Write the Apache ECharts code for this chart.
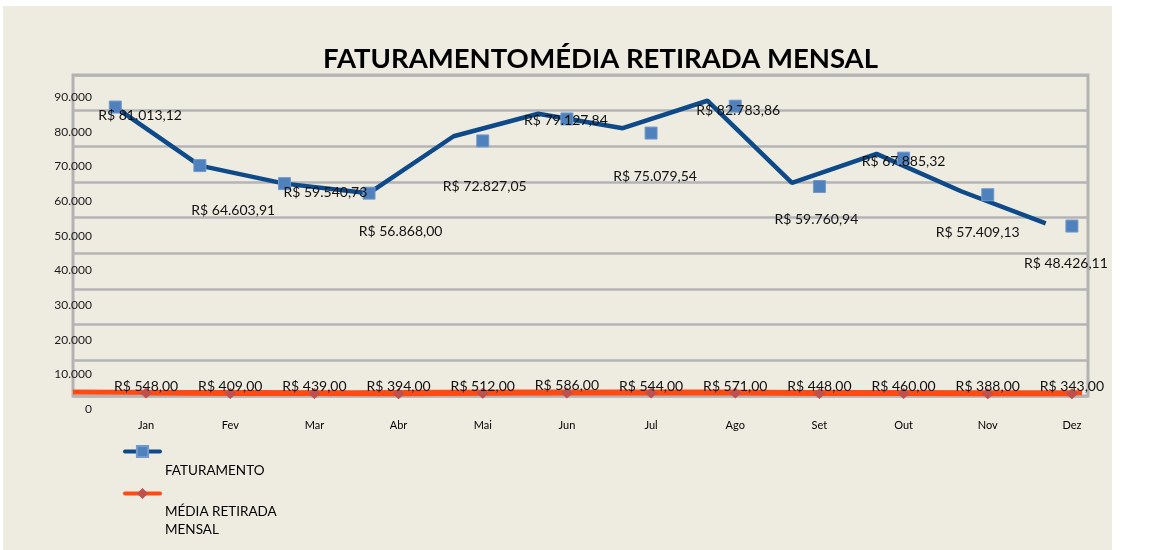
<!DOCTYPE html>
<html>
<head>
<meta charset="utf-8">
<script src="https://cdn.jsdelivr.net/npm/echarts@6/dist/echarts.min.js"></script>
<style>
  html, body { margin: 0; padding: 0; background: #ffffff; }
  #wrap { position: relative; width: 1152px; height: 550px; overflow: hidden; }
  #panel { position: absolute; left: 3px; top: 6px; width: 1109px; height: 544px; background: #EEECE1; }
  #chart { position: absolute; left: 0; top: 0; width: 1152px; height: 550px; }
</style>
</head>
<body>
<div id="wrap">
  <div id="panel"></div>
  <div id="chart"></div>
</div>
<script>
// Monthly data
const months = ['Jan', 'Fev', 'Mar', 'Abr', 'Mai', 'Jun', 'Jul', 'Ago', 'Set', 'Out', 'Nov', 'Dez'];
const faturamento = [81013.12, 64603.91, 59540.73, 56868.00, 72827.05, 79127.84, 75079.54, 82783.86, 59760.94, 67885.32, 57409.13, 48426.11];
const mediaRetirada = [548.00, 409.00, 439.00, 394.00, 512.00, 586.00, 544.00, 571.00, 448.00, 460.00, 388.00, 343.00];
const yMin = 0;
const yMax = 90000;
const yStep = 10000;

const FONT = 'Lato, "Liberation Sans", sans-serif';

// pt-BR number formatting: 81013.12 -> "81.013,12"
function groupThousands(intStr) {
  return intStr.replace(/\B(?=(\d{3})+(?!\d))/g, '.');
}
function brMoney(v) {
  const parts = Math.abs(v).toFixed(2).split('.');
  return 'R$ ' + groupThousands(parts[0]) + ',' + parts[1];
}
function brInt(v) {
  return groupThousands(String(Math.round(v)));
}

// label placement around each revenue point (dx, dy in px)
const revLabelShift = [[-6, 3], [3, 41], [11, 5], [2, 35], [2, 46], [-1, 2], [4, 43], [3, 4], [-3, 33], [0, 3], [-10, 38], [-6, 37]];

const chart = echarts.init(document.getElementById('chart'), null, { renderer: 'canvas' });

const hiddenCat = {
  type: 'category', data: months, boundaryGap: true,
  axisLine: { show: false }, axisTick: { show: false }, axisLabel: { show: false }, splitLine: { show: false }
};
const hiddenVal = {
  type: 'value', min: yMin, max: yMax, interval: yStep,
  axisLine: { show: false }, axisTick: { show: false }, axisLabel: { show: false }, splitLine: { show: false }
};

// legend text sits below-right of its icon
const legendText = {
  fontFamily: FONT, fontSize: 13.5, color: '#000000',
  rich: {
    gap1: { lineHeight: 38, fontSize: 1 },
    gap2: { lineHeight: 54, fontSize: 1 },
    t: { fontFamily: FONT, fontSize: 13.5, lineHeight: 18, color: '#000000' }
  }
};
const legendLine = { width: 4, cap: 'round' };

const option = {
  backgroundColor: 'transparent',
  animation: false,
  textStyle: { fontFamily: FONT },
  title: [
    { text: 'FATURAMENTO', left: 323, top: 45, padding: 0,
      textStyle: { fontFamily: FONT, fontSize: 27.5, fontWeight: 'bold', color: '#000000' } },
    { text: 'MÉDIA RETIRADA MENSAL', right: 274, top: 45, padding: 0,
      textStyle: { fontFamily: FONT, fontSize: 27.5, fontWeight: 'bold', color: '#000000' } }
  ],
  legend: [
    {
      data: ['FATURAMENTO'], orient: 'vertical', left: 123, top: 442, padding: 0,
      itemWidth: 35, itemHeight: 14, selectedMode: false,
      lineStyle: legendLine,
      formatter: name => '{gap1| }\n{t|' + name + '}',
      textStyle: legendText
    },
    {
      data: ['MÉDIA RETIRADA MENSAL'], orient: 'vertical', left: 123, top: 475, padding: 0,
      itemWidth: 35, itemHeight: 14, selectedMode: false,
      lineStyle: legendLine,
      formatter: () => '{gap2| }\n{t|MÉDIA RETIRADA}\n{t|MENSAL}',
      textStyle: legendText
    }
  ],
  grid: [
    // plot frame with gridlines and the revenue line
    { left: 73, top: 75, width: 1015, height: 321, show: true, borderColor: '#B2B2B2', borderWidth: 3, backgroundColor: 'transparent' },
    // category labels, point markers and value labels
    { left: 104, top: 81, width: 1010, height: 314 },
    // value-axis tick labels
    { left: 104, top: 97, width: 1010, height: 312 },
    // withdrawal line across the frame
    { left: 73, top: 80, width: 1009, height: 314 }
  ],
  xAxis: [
    Object.assign({}, hiddenCat, { gridIndex: 0 }),
    Object.assign({}, hiddenCat, {
      gridIndex: 1,
      axisLabel: { show: true, margin: 25, fontFamily: FONT, fontSize: 11, color: '#000000', interval: 0 }
    }),
    Object.assign({}, hiddenCat, { gridIndex: 2 }),
    Object.assign({}, hiddenCat, { gridIndex: 3, boundaryGap: false })
  ],
  yAxis: [
    Object.assign({}, hiddenVal, {
      gridIndex: 0,
      splitLine: { show: true, lineStyle: { color: '#B4B4B4', width: 2.5 } }
    }),
    Object.assign({}, hiddenVal, { gridIndex: 1 }),
    Object.assign({}, hiddenVal, {
      gridIndex: 2,
      axisLabel: { show: true, margin: 12, fontFamily: FONT, fontSize: 12, color: '#1A1A1A', formatter: v => brInt(v) }
    }),
    Object.assign({}, hiddenVal, { gridIndex: 3 })
  ],
  series: [
    {
      name: 'FATURAMENTO', type: 'line', xAxisIndex: 0, yAxisIndex: 0,
      data: faturamento,
      symbol: 'rect',
      symbolSize: (v, p) => (p && p.dataIndex < 4 ? 12 : (p ? 0 : 12)),
      lineStyle: { color: '#0E4A8A', width: 4.5 },
      itemStyle: { color: '#4F81BD', borderColor: '#7399CC', borderWidth: 1 },
      z: 3, silent: true
    },
    {
      name: 'FATURAMENTO', type: 'line', xAxisIndex: 1, yAxisIndex: 1,
      data: faturamento.map((v, i) => ({
        value: v,
        label: { offset: revLabelShift[i] }
      })),
      symbol: 'rect',
      symbolSize: (v, p) => (p && p.dataIndex >= 4 ? 12 : 0),
      showAllSymbol: true,
      lineStyle: { width: 0, opacity: 0 },
      itemStyle: { color: '#4F81BD', borderColor: '#7399CC', borderWidth: 1 },
      label: {
        show: true, position: 'inside', fontFamily: FONT, fontSize: 14, color: '#111111',
        formatter: p => brMoney(p.value)
      },
      z: 4, silent: true
    },
    {
      name: 'MÉDIA RETIRADA MENSAL', type: 'line', xAxisIndex: 1, yAxisIndex: 1,
      data: mediaRetirada,
      symbol: 'diamond', symbolSize: [12, 11], showAllSymbol: true,
      lineStyle: { color: '#FF4A12', width: 5 },
      itemStyle: { color: '#C0504D' },
      label: {
        show: true, position: 'inside', offset: [0, -7], fontFamily: FONT, fontSize: 14, color: '#111111',
        formatter: p => brMoney(p.value)
      },
      z: 5, silent: true
    },
    {
      name: 'MÉDIA RETIRADA MENSAL', type: 'line', xAxisIndex: 3, yAxisIndex: 3,
      data: mediaRetirada,
      symbol: 'none',
      lineStyle: { color: '#FF4A12', width: 5 },
      z: 2, silent: true
    }
  ]
};

chart.setOption(option);
</script>
</body>
</html>
